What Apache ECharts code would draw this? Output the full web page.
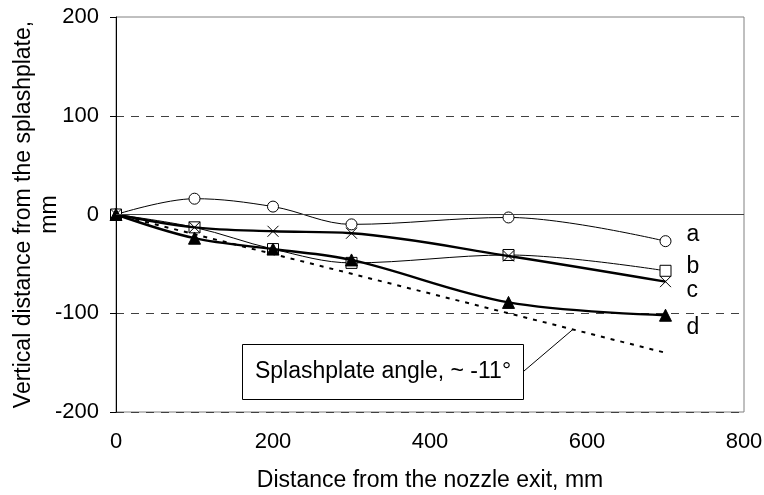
<!DOCTYPE html>
<html>
<head>
<meta charset="utf-8">
<script src="https://cdn.jsdelivr.net/npm/echarts@6/dist/echarts.min.js"></script>
<style>
  html, body { margin: 0; padding: 0; background: #fff; }
  #chart { width: 764px; height: 495px; }
</style>
</head>
<body>
<div id="chart"></div>
<script>
// distances from the nozzle exit, mm
var xValues = [0, 100, 200, 300, 500, 700];
// vertical distance from the splashplate, mm
var seriesA = [0, 16, 8, -10, -3, -27];
var seriesB = [0, -13, -35, -49, -41, -57];
var seriesC = [0, -13, -17, -19, -42, -68];
var seriesD = [0, -24, -35, -46, -89, -102];
// splashplate angle line (~ -11 deg)
var plateX = [0, 700];
var plateY = [0, -140];

var font = "Liberation Sans, Arial, sans-serif";

function pairs(xs, ys) {
    return xs.map(function (x, i) { return [x, ys[i]]; });
}

var crossPath = "path://M0,0L10,10M10,0L0,10";

var chart = echarts.init(document.getElementById("chart"));

var labelStyle = { fontSize: 23, color: "#000", fontFamily: font };

var option = {
    animation: false,
    textStyle: { fontFamily: font },
    grid: {
        left: 116, right: 20, top: 17, bottom: 83,
        outerBoundsMode: "none",
        containLabel: false,
        show: true, borderColor: "#808080", borderWidth: 1
    },
    xAxis: {
        type: "value",
        min: 0, max: 800, interval: 200,
        axisLine: { show: false },
        axisTick: { show: false },
        splitLine: { show: false },
        axisLabel: { fontSize: 22, color: "#000", fontFamily: font, margin: 19 },
        name: "Distance from the nozzle exit, mm",
        nameLocation: "middle",
        nameGap: 57,
        nameMoveOverlap: false,
        nameTextStyle: { fontSize: 23, color: "#000", fontFamily: font }
    },
    yAxis: {
        type: "value",
        min: -200, max: 200, interval: 100,
        axisLine: { show: true, onZero: false, lineStyle: { color: "#000", width: 1 } },
        axisTick: { show: true, length: 6, lineStyle: { color: "#000" } },
        splitLine: {
            show: true, showMaxLine: false,
            lineStyle: { color: "#404040", type: [8, 7], width: 1 }
        },
        axisLabel: { fontSize: 22, color: "#000", fontFamily: font, margin: 17 },
        name: "Vertical distance from the splashplate,\nmm",
        nameLocation: "middle",
        nameRotate: 90,
        nameGap: 53,
        nameMoveOverlap: false,
        nameTextStyle: { fontSize: 23, color: "#000", fontFamily: font, lineHeight: 26 }
    },
    series: [
        {
            name: "a", type: "line", smooth: 0.35,
            data: pairs(xValues, seriesA),
            symbol: "circle", symbolSize: 11,
            itemStyle: { color: "#fff", borderColor: "#000", borderWidth: 1 },
            lineStyle: { color: "#000", width: 1 },
            endLabel: Object.assign({ show: true, formatter: "{a}", offset: [13, -7] }, labelStyle),
            markLine: {
                silent: true, symbol: "none", label: { show: false },
                lineStyle: { color: "#404040", type: "solid", width: 1 },
                data: [{ yAxis: 0 }]
            },
            z: 3
        },
        {
            name: "b", type: "line", smooth: 0.35,
            data: pairs(xValues, seriesB),
            symbol: "rect", symbolSize: 11,
            itemStyle: { color: "#fff", borderColor: "#000", borderWidth: 1 },
            lineStyle: { color: "#000", width: 1 },
            endLabel: Object.assign({ show: true, formatter: "{a}", offset: [13, -4] }, labelStyle),
            z: 3
        },
        {
            name: "c", type: "line", smooth: 0.35,
            data: pairs(xValues, seriesC),
            symbol: crossPath, symbolSize: 11,
            itemStyle: { color: "none", borderColor: "#000", borderWidth: 1 },
            lineStyle: { color: "#000", width: 2.4 },
            endLabel: Object.assign({ show: true, formatter: "{a}", offset: [13, 9] }, labelStyle),
            z: 4
        },
        {
            name: "d", type: "line", smooth: 0.35,
            data: pairs(xValues, seriesD),
            symbol: "triangle", symbolSize: 12,
            itemStyle: { color: "#000", borderColor: "#000", borderWidth: 1 },
            lineStyle: { color: "#000", width: 2.4 },
            endLabel: Object.assign({ show: true, formatter: "{a}", offset: [13, 12] }, labelStyle),
            z: 4
        },
        {
            name: "plate", type: "line",
            data: pairs(plateX, plateY),
            showSymbol: false, symbol: "none",
            lineStyle: { color: "#000", width: 2, type: [4, 6] },
            z: 2
        }
    ]
};

chart.setOption(option);

// annotation box with leader line to the splashplate line
var tip = chart.convertToPixel({ gridIndex: 0 }, [582, -116.4]);
chart.setOption({
    graphic: [
        {
            type: "line",
            shape: { x1: 524, y1: 371, x2: tip[0], y2: tip[1] },
            style: { stroke: "#000", lineWidth: 1 },
            z: 10
        },
        {
            type: "rect",
            shape: { x: 242.5, y: 344.5, width: 281, height: 55 },
            style: { fill: "#fff", stroke: "#000", lineWidth: 1 },
            z: 10
        },
        {
            type: "text",
            x: 383, y: 372,
            style: {
                text: "Splashplate angle, ~ -11°",
                fontSize: 23, fontFamily: font, fill: "#000",
                align: "center", verticalAlign: "middle"
            },
            z: 11
        }
    ]
});

window.addEventListener("resize", function () { chart.resize(); });
</script>
</body>
</html>
